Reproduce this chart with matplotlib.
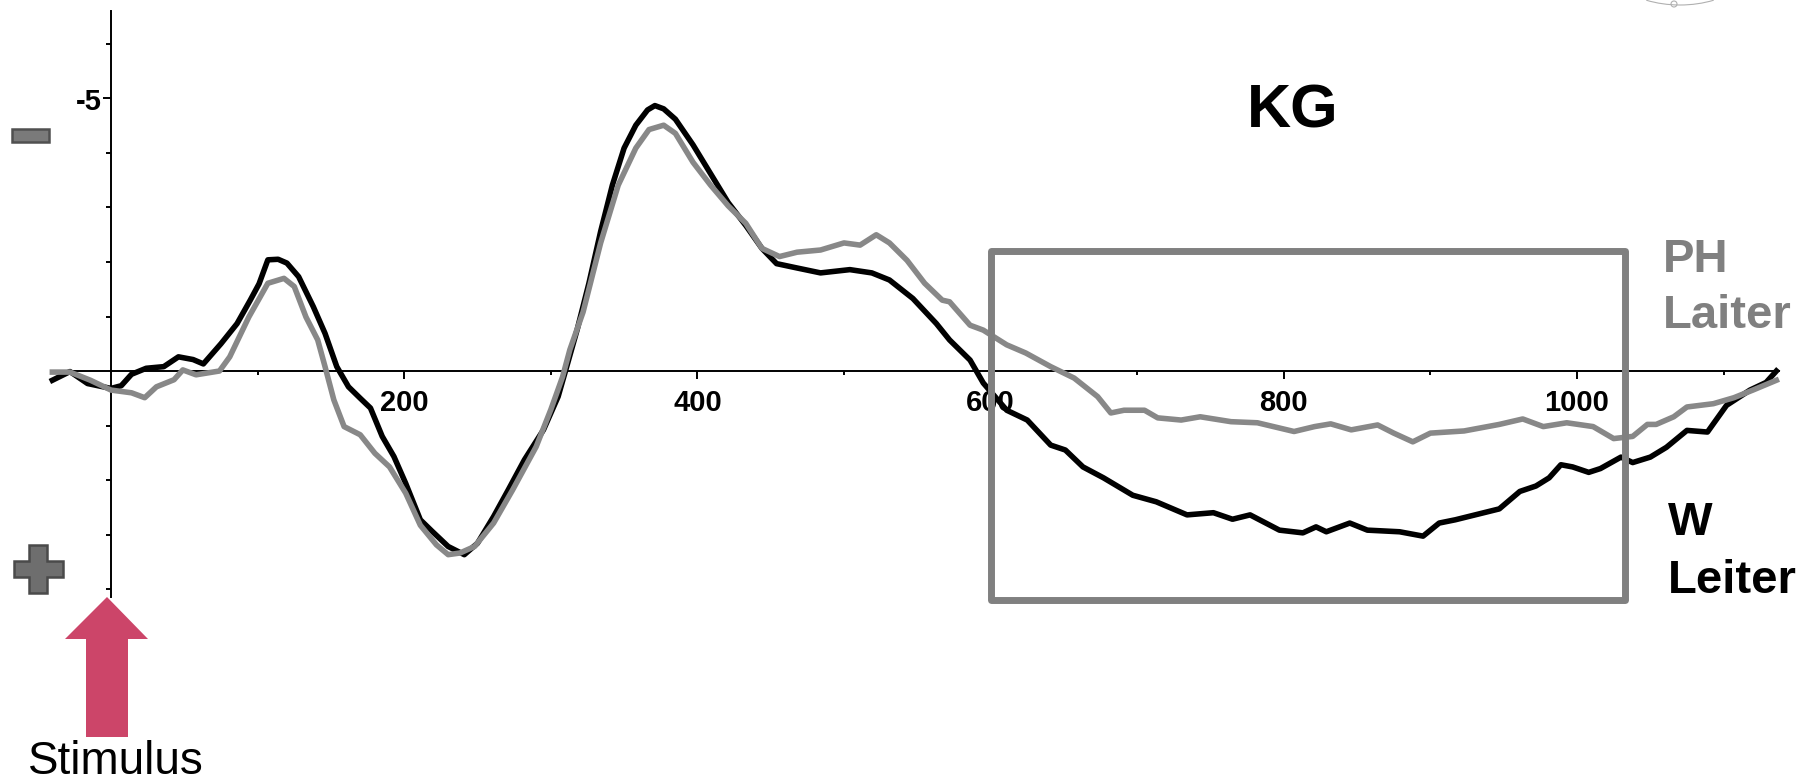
import matplotlib
matplotlib.use("Agg")
import matplotlib.pyplot as plt
from matplotlib import patches

plt.rcParams['font.family'] = ['Liberation Sans', 'DejaVu Sans']

# ---- data (time in ms, amplitude in microvolts; negative plotted upward) ----
w_time = [-40, -28, -16, 0, 7, 14, 24, 36, 46, 56, 63, 75, 86, 95, 101, 107, 114, 120, 128, 138,
          146, 154, 162, 170, 177, 185, 193, 201, 211, 219, 230, 241, 250, 261, 271, 282, 295, 305,
          310, 318, 326, 334, 342, 350, 358, 366, 371, 377, 385, 397, 409, 421, 433, 444, 454, 468,
          484, 504, 519, 531, 547, 563, 572, 586, 595, 611, 625, 641, 651, 663, 677, 697, 713, 734,
          752, 765, 777, 797, 813, 822, 829, 845, 857, 879, 895, 906, 917, 947, 961, 972, 981, 989,
          997, 1008, 1016, 1030, 1038, 1050, 1061, 1075, 1089, 1102, 1118, 1129, 1136]
w_leiter = [0.17, 0.01, 0.23, 0.32, 0.27, 0.06, -0.05, -0.08, -0.26, -0.21, -0.13, -0.5, -0.87, -1.3,
            -1.6, -2.04, -2.05, -1.98, -1.73, -1.18, -0.69, -0.08, 0.29, 0.5, 0.68, 1.2, 1.57, 2.06,
            2.73, 2.94, 3.22, 3.37, 3.16, 2.67, 2.18, 1.63, 1.08, 0.47, 0.0, -0.76, -1.61, -2.56,
            -3.41, -4.09, -4.51, -4.79, -4.87, -4.81, -4.62, -4.15, -3.62, -3.09, -2.67, -2.25, -1.97,
            -1.89, -1.8, -1.86, -1.8, -1.67, -1.33, -0.87, -0.57, -0.2, 0.22, 0.72, 0.9, 1.36, 1.45,
            1.76, 1.96, 2.28, 2.4, 2.64, 2.6, 2.72, 2.64, 2.92, 2.97, 2.86, 2.95, 2.79, 2.92, 2.95,
            3.03, 2.79, 2.73, 2.53, 2.21, 2.11, 1.96, 1.72, 1.76, 1.86, 1.79, 1.58, 1.68, 1.58, 1.4,
            1.09, 1.12, 0.63, 0.35, 0.21, 0.0]

ph_time = [-40, -28, -14, 0, 14, 23, 31, 43, 49, 58, 74, 81, 94, 107, 118, 125, 133, 141, 146, 152,
           159, 170, 180, 190, 201, 211, 222, 230, 238, 248, 261, 274, 290, 300, 308, 313, 322, 334,
           346, 358, 367, 377, 385, 397, 409, 421, 433, 444, 456, 468, 484, 500, 511, 522, 531, 543,
           555, 567, 572, 586, 595, 611, 624, 641, 657, 673, 682, 691, 705, 714, 730, 743, 764, 782,
           807, 821, 832, 846, 864, 875, 888, 900, 923, 947, 963, 977, 993, 1011, 1025, 1038, 1048,
           1054, 1066, 1075, 1093, 1107, 1120, 1136]
ph_laiter = [0.02, 0.02, 0.17, 0.35, 0.4, 0.49, 0.29, 0.16, -0.02, 0.07, 0.0, -0.26, -0.99, -1.61,
             -1.7, -1.55, -0.99, -0.57, -0.08, 0.53, 1.02, 1.17, 1.51, 1.76, 2.24, 2.83, 3.19, 3.37,
             3.34, 3.22, 2.79, 2.18, 1.39, 0.71, 0.11, -0.39, -1.08, -2.35, -3.41, -4.09, -4.43,
             -4.51, -4.36, -3.83, -3.41, -3.03, -2.71, -2.25, -2.1, -2.18, -2.22, -2.35, -2.31, -2.5,
             -2.35, -2.03, -1.61, -1.3, -1.27, -0.84, -0.75, -0.48, -0.33, -0.08, 0.13, 0.47, 0.77,
             0.72, 0.72, 0.86, 0.9, 0.84, 0.93, 0.95, 1.11, 1.02, 0.97, 1.08, 0.99, 1.14, 1.3, 1.14,
             1.1, 0.98, 0.88, 1.02, 0.95, 1.02, 1.24, 1.2, 0.98, 0.98, 0.84, 0.66, 0.6, 0.49, 0.35,
             0.17]

x_major = [200, 400, 600, 800, 1000]
x_minor = [100, 300, 500, 700, 900, 1100]
y_major = [-5]
y_minor = [-6, -4, -3, -2, -1, 1, 2, 3, 4]
window_ms = (600, 1033)
window_uv = (-2.2, 4.2)

W, H = 1812, 782
fig = plt.figure(figsize=(W / 100, H / 100), dpi=100)
fig.patch.set_facecolor('white')

ax = fig.add_axes([0, 0, 1, 1])
ax.set_facecolor('none')
# pixel mapping: x = 111 + 1.466*ms ; y = 371 + 54.5*uV
ax.set_xlim(-111 / 1.466, (W - 111) / 1.466)
ax.set_ylim((H - 371) / 54.5, -371 / 54.5)

for s in ('top', 'right'):
    ax.spines[s].set_visible(False)
ax.spines['left'].set_position(('data', 0))
ax.spines['bottom'].set_position(('data', 0))
ax.spines['left'].set_bounds(-6.6, 4.15)
ax.spines['bottom'].set_bounds(-40, 1138)
for s in ('left', 'bottom'):
    ax.spines[s].set_linewidth(1.4)
    ax.spines[s].set_color('black')

ax.set_xticks(x_major)
ax.set_xticklabels([str(v) for v in x_major], fontweight='bold', fontsize=21)
ax.set_xticks(x_minor, minor=True)
ax.set_yticks(y_major)
ax.set_yticklabels([str(v) for v in y_major], fontweight='bold', fontsize=21)
ax.set_yticks(y_minor, minor=True)
ax.tick_params(axis='x', which='major', direction='out', length=6, width=1.4, pad=7)
ax.tick_params(axis='x', which='minor', direction='out', length=3, width=1.4)
ax.tick_params(axis='y', which='major', direction='out', length=6, width=1.4, pad=1)
ax.tick_params(axis='y', which='minor', direction='out', length=3.5, width=1.4)

ax.plot(w_time, w_leiter, color='black', lw=4.0, solid_joinstyle='round', zorder=4)
ax.plot(ph_time, ph_laiter, color='#888888', lw=4.0, solid_joinstyle='round', zorder=4)

rect = patches.Rectangle((window_ms[0], window_uv[0]), window_ms[1] - window_ms[0],
                         window_uv[1] - window_uv[0], fill=False, edgecolor='#808080',
                         lw=5, joinstyle='round', zorder=6)
ax.add_patch(rect)

# overlay in pixel coordinates for annotations
ov = fig.add_axes([0, 0, 1, 1], zorder=10)
ov.set_xlim(0, W)
ov.set_ylim(H, 0)
ov.axis('off')
ov.patch.set_alpha(0)

# minus sign box
ov.add_patch(patches.Rectangle((12, 129), 37, 13, facecolor='#7a7a7a', edgecolor='#505050', lw=1.8))
# plus sign
plus = [(29, 545), (47, 545), (47, 561), (63, 561), (63, 577), (47, 577), (47, 593),
        (29, 593), (29, 577), (14, 577), (14, 561), (29, 561)]
ov.add_patch(patches.Polygon(plus, closed=True, facecolor='#6e6e6e', edgecolor='#4a4a4a', lw=1.8))
# stimulus arrow
arrow = [(107, 597), (148, 639), (128, 639), (128, 737), (86, 737), (86, 639), (65, 639)]
ov.add_patch(patches.Polygon(arrow, closed=True, facecolor='#CC4569', edgecolor='none'))
# faint logo remnant top right
ov.add_patch(patches.Arc((1680, -40), 150, 90, theta1=50, theta2=130, color='#b0b0b0', lw=0.8))
ov.add_patch(patches.Circle((1674, 4), 3, fill=False, edgecolor='#b0b0b0', lw=0.8))

ov.text(28, 774, 'Stimulus', fontsize=33, color='black', ha='left', va='baseline')
ov.text(1293, 128, 'KG', fontsize=44, fontweight='bold', color='black', ha='center', va='baseline')
ov.text(1663, 272, 'PH', fontsize=34, fontweight='bold', color='#808080', ha='left', va='baseline')
ov.text(1663, 328, 'Laiter', fontsize=34, fontweight='bold', color='#808080', ha='left', va='baseline')
ov.text(1668, 535, 'W', fontsize=34, fontweight='bold', color='black', ha='left', va='baseline')
ov.text(1668, 593, 'Leiter', fontsize=34, fontweight='bold', color='black', ha='left', va='baseline')

fig.savefig('out.png', dpi=100, facecolor='white')
